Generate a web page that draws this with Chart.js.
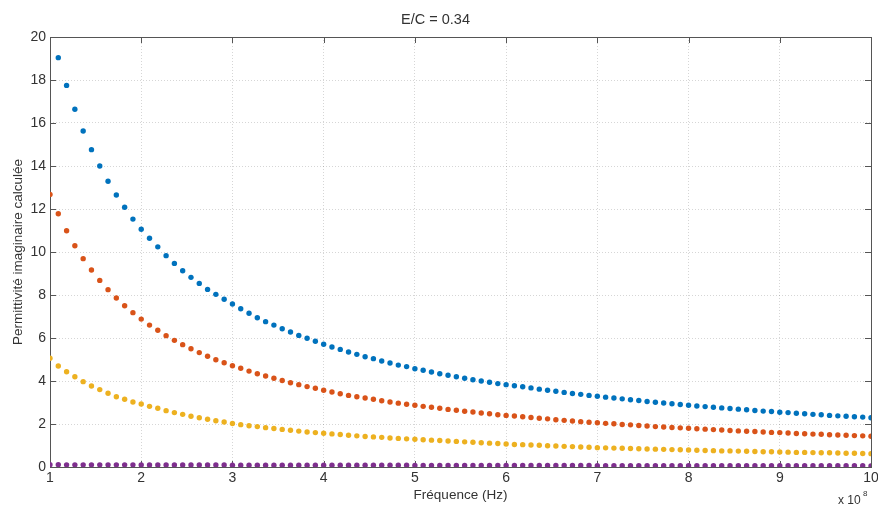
<!DOCTYPE html>
<html>
<head>
<meta charset="utf-8">
<script src="https://cdn.jsdelivr.net/npm/chart.js@4"></script>
<style>
  body { margin: 0; background: #fff; }
</style>
</head>
<body>
<canvas id="chart" width="878" height="506"></canvas>
<script>
// frequency in units of 1e8 Hz (100 points from 1 to 10)
const freq = [
  1.0000, 1.0909, 1.1818, 1.2727, 1.3636, 1.4545, 1.5455, 1.6364, 1.7273, 1.8182, 1.9091,
  2.0000, 2.0909, 2.1818, 2.2727, 2.3636, 2.4545, 2.5455, 2.6364, 2.7273, 2.8182, 2.9091,
  3.0000, 3.0909, 3.1818, 3.2727, 3.3636, 3.4545, 3.5455, 3.6364, 3.7273, 3.8182, 3.9091,
  4.0000, 4.0909, 4.1818, 4.2727, 4.3636, 4.4545, 4.5455, 4.6364, 4.7273, 4.8182, 4.9091,
  5.0000, 5.0909, 5.1818, 5.2727, 5.3636, 5.4545, 5.5455, 5.6364, 5.7273, 5.8182, 5.9091,
  6.0000, 6.0909, 6.1818, 6.2727, 6.3636, 6.4545, 6.5455, 6.6364, 6.7273, 6.8182, 6.9091,
  7.0000, 7.0909, 7.1818, 7.2727, 7.3636, 7.4545, 7.5455, 7.6364, 7.7273, 7.8182, 7.9091,
  8.0000, 8.0909, 8.1818, 8.2727, 8.3636, 8.4545, 8.5455, 8.6364, 8.7273, 8.8182, 8.9091,
  9.0000, 9.0909, 9.1818, 9.2727, 9.3636, 9.4545, 9.5455, 9.6364, 9.7273, 9.8182, 9.9091,
  10.0000
];

const blueVals = [
  20.5, 19.04, 17.75, 16.64, 15.63, 14.76, 14.00, 13.29, 12.65, 12.08, 11.53,
  11.06, 10.64, 10.24, 9.83, 9.47, 9.13, 8.82, 8.54, 8.26, 8.03, 7.80,
  7.58, 7.36, 7.15, 6.94, 6.76, 6.60, 6.43, 6.28, 6.12, 5.99, 5.85,
  5.71, 5.58, 5.47, 5.35, 5.24, 5.13, 5.04, 4.93, 4.84, 4.74, 4.67,
  4.57, 4.50, 4.42, 4.34, 4.27, 4.20, 4.13, 4.06, 4.00, 3.94, 3.88,
  3.83, 3.78, 3.73, 3.68, 3.62, 3.57, 3.52, 3.47, 3.42, 3.38, 3.33,
  3.29, 3.25, 3.21, 3.17, 3.13, 3.09, 3.05, 3.01, 2.98, 2.94, 2.91,
  2.87, 2.84, 2.81, 2.78, 2.75, 2.72, 2.69, 2.66, 2.63, 2.60, 2.58,
  2.55, 2.53, 2.50, 2.48, 2.45, 2.43, 2.40, 2.38, 2.36, 2.34, 2.32,
  2.29
];

const redVals = [
  12.68, 11.78, 10.99, 10.29, 9.69, 9.16, 8.68, 8.25, 7.86, 7.50, 7.18,
  6.88, 6.60, 6.36, 6.11, 5.89, 5.69, 5.50, 5.32, 5.15, 4.99, 4.85,
  4.71, 4.59, 4.46, 4.34, 4.23, 4.13, 4.02, 3.92, 3.83, 3.74, 3.66,
  3.57, 3.49, 3.41, 3.33, 3.27, 3.21, 3.15, 3.08, 3.02, 2.97, 2.92,
  2.87, 2.82, 2.78, 2.73, 2.68, 2.64, 2.59, 2.56, 2.51, 2.48, 2.43,
  2.40, 2.37, 2.34, 2.30, 2.27, 2.24, 2.20, 2.17, 2.14, 2.11, 2.08,
  2.06, 2.03, 2.01, 1.98, 1.96, 1.93, 1.91, 1.88, 1.86, 1.84, 1.82,
  1.80, 1.78, 1.76, 1.74, 1.72, 1.70, 1.68, 1.66, 1.65, 1.63, 1.61,
  1.60, 1.58, 1.56, 1.55, 1.53, 1.52, 1.50, 1.49, 1.48, 1.46, 1.45,
  1.43
];

const yellowVals = [
  5.06, 4.70, 4.43, 4.20, 3.97, 3.77, 3.60, 3.43, 3.27, 3.15, 3.02,
  2.93, 2.82, 2.73, 2.62, 2.53, 2.45, 2.36, 2.29, 2.22, 2.15, 2.09,
  2.02, 1.97, 1.92, 1.88, 1.83, 1.79, 1.75, 1.71, 1.67, 1.63, 1.60,
  1.57, 1.54, 1.51, 1.48, 1.45, 1.42, 1.40, 1.38, 1.35, 1.33, 1.31,
  1.29, 1.27, 1.25, 1.23, 1.21, 1.19, 1.17, 1.15, 1.13, 1.11, 1.09,
  1.07, 1.05, 1.04, 1.02, 1.01, 0.99, 0.98, 0.96, 0.95, 0.93, 0.92,
  0.90, 0.89, 0.88, 0.87, 0.86, 0.85, 0.84, 0.83, 0.82, 0.81, 0.80,
  0.79, 0.78, 0.77, 0.76, 0.75, 0.75, 0.74, 0.73, 0.72, 0.71, 0.71,
  0.70, 0.69, 0.68, 0.68, 0.67, 0.66, 0.66, 0.65, 0.64, 0.64, 0.63,
  0.62
];

const purpleVals = [
  0.11, 0.11, 0.10, 0.10, 0.10, 0.10, 0.10, 0.10, 0.10, 0.10, 0.10,
  0.09, 0.09, 0.09, 0.09, 0.09, 0.09, 0.09, 0.09, 0.09, 0.09, 0.09,
  0.08, 0.08, 0.08, 0.08, 0.08, 0.08, 0.08, 0.08, 0.08, 0.08, 0.08,
  0.08, 0.08, 0.08, 0.08, 0.08, 0.08, 0.08, 0.08, 0.08, 0.08, 0.08,
  0.07, 0.07, 0.07, 0.07, 0.07, 0.07, 0.07, 0.07, 0.07, 0.07, 0.07,
  0.07, 0.07, 0.07, 0.07, 0.07, 0.07, 0.07, 0.07, 0.07, 0.07, 0.07,
  0.06, 0.06, 0.06, 0.06, 0.06, 0.06, 0.06, 0.06, 0.06, 0.06, 0.06,
  0.06, 0.06, 0.06, 0.06, 0.06, 0.06, 0.06, 0.06, 0.06, 0.06, 0.06,
  0.06, 0.06, 0.06, 0.06, 0.06, 0.06, 0.06, 0.06, 0.06, 0.06, 0.06,
  0.05
];

const xTicks = [1, 2, 3, 4, 5, 6, 7, 8, 9, 10];
const yTicks = [0, 2, 4, 6, 8, 10, 12, 14, 16, 18, 20];

const FONT = '"Liberation Sans", Arial, Helvetica, sans-serif';
const AXIS_COL = '#555555';
const TEXT_COL = '#333333';

function toPoints(vals) {
  return freq.map((f, i) => ({ x: f, y: vals[i] }));
}

function series(vals, color) {
  return {
    data: toPoints(vals),
    backgroundColor: color,
    borderColor: color,
    pointRadius: 2.7,
    pointBorderWidth: 0,
    pointHoverRadius: 2.7,
    showLine: false
  };
}

// MATLAB style box with inward ticks and the x 10^8 exponent
const boxPlugin = {
  id: 'boxPlugin',
  beforeDatasetsDraw(chart) {
    const { ctx, chartArea: a, scales } = chart;
    const len = 6;
    ctx.save();
    ctx.strokeStyle = AXIS_COL;
    ctx.lineWidth = 1;
    ctx.beginPath();
    xTicks.forEach(v => {
      const px = Math.round(scales.x.getPixelForValue(v)) + 0.5;
      ctx.moveTo(px, a.bottom); ctx.lineTo(px, a.bottom - len);
      ctx.moveTo(px, a.top); ctx.lineTo(px, a.top + len);
    });
    yTicks.forEach(v => {
      const py = Math.round(scales.y.getPixelForValue(v)) + 0.5;
      ctx.moveTo(a.left, py); ctx.lineTo(a.left + len, py);
      ctx.moveTo(a.right, py); ctx.lineTo(a.right - len, py);
    });
    ctx.stroke();
    ctx.strokeRect(Math.round(a.left) + 0.5, Math.round(a.top) + 0.5,
      Math.round(a.right - a.left), Math.round(a.bottom - a.top));
    ctx.restore();
  },
  afterDraw(chart) {
    const { ctx } = chart;
    ctx.save();
    ctx.fillStyle = TEXT_COL;
    ctx.textBaseline = 'alphabetic';
    ctx.textAlign = 'left';
    ctx.font = '12px ' + FONT;
    ctx.fillText('x 10', 838, 504);
    ctx.font = '8px ' + FONT;
    ctx.fillText('8', 863, 496);
    ctx.restore();
  }
};

const ctx = document.getElementById('chart').getContext('2d');

new Chart(ctx, {
  type: 'scatter',
  data: {
    datasets: [
      series(blueVals, '#0072BD'),
      series(redVals, '#D95319'),
      series(yellowVals, '#EDB120'),
      series(purpleVals, '#7E2F8E')
    ]
  },
  options: {
    responsive: false,
    devicePixelRatio: 1,
    animation: false,
    layout: { padding: { left: 0, right: 7, top: 0, bottom: 0 } },
    plugins: {
      legend: { display: false },
      tooltip: { enabled: false },
      title: {
        display: true,
        text: 'E/C = 0.34',
        color: TEXT_COL,
        font: { family: FONT, size: 14.5, weight: 'normal' },
        padding: { top: 11, bottom: 8.6 }
      }
    },
    scales: {
      x: {
        type: 'linear',
        min: 1,
        max: 10,
        afterBuildTicks(scale) { scale.ticks = xTicks.map(v => ({ value: v })); },
        afterFit(scale) {
          scale.height = 39;
          scale.paddingRight = 0;
          scale.paddingLeft = 0;
        },
        ticks: {
          color: TEXT_COL,
          font: { family: FONT, size: 14 },
          padding: 3,
          maxRotation: 0,
          callback: v => String(v)
        },
        grid: { color: 'rgba(0,0,0,0.16)', drawTicks: false, lineWidth: 1 },
        border: { display: false, dash: [1, 2] },
        title: {
          display: true,
          text: 'Fréquence (Hz)',
          color: TEXT_COL,
          font: { family: FONT, size: 13.5 },
          padding: { top: 0, bottom: 3 }
        }
      },
      y: {
        type: 'linear',
        min: 0,
        max: 20,
        afterBuildTicks(scale) { scale.ticks = yTicks.map(v => ({ value: v })); },
        afterFit(scale) { scale.width = 50; },
        ticks: {
          color: TEXT_COL,
          font: { family: FONT, size: 14 },
          padding: 4,
          callback: v => String(v)
        },
        grid: { color: 'rgba(0,0,0,0.16)', drawTicks: false, lineWidth: 1 },
        border: { display: false, dash: [1, 2] },
        title: {
          display: true,
          text: 'Permittivité imaginaire calculée',
          color: TEXT_COL,
          font: { family: FONT, size: 13.5 },
          padding: { top: 10.5, bottom: 0 }
        }
      }
    }
  },
  plugins: [boxPlugin]
});
</script>
</body>
</html>
